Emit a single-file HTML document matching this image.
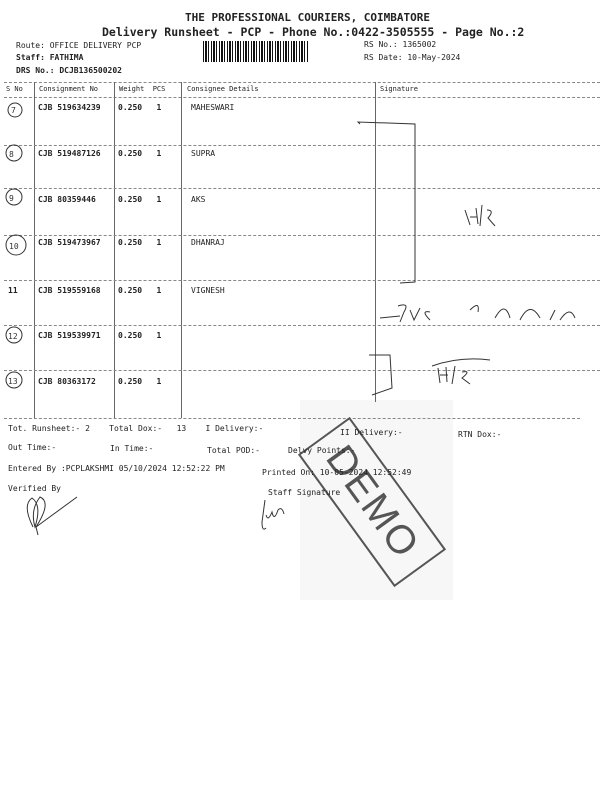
<!DOCTYPE html>
<html><head><meta charset="utf-8"><style>
body{margin:0;width:600px;height:800px;background:#fff;position:relative;overflow:hidden;font-family:"DejaVu Sans Mono","Liberation Mono",monospace;color:#222}
.t{position:absolute;white-space:pre;font-size:8px}
.b{font-weight:bold}
.h{position:absolute;left:4px;right:0;border-top:1px dashed #888;height:0}
.v{position:absolute;border-left:1px solid #666;top:82px;height:336px;width:0}
</style></head><body>
<div style="position:absolute;left:300px;top:400px;width:153px;height:200px;background:#f7f7f7"></div>
<div class="t b" style="left:185px;top:11px;font-size:11px">THE PROFESSIONAL COURIERS, COIMBATORE</div>
<div class="t b" style="left:102px;top:25px;font-size:11.5px">Delivery Runsheet - PCP - Phone No.:0422-3505555 - Page No.:2</div>
<div class="t" style="left:16px;top:41px">Route: OFFICE DELIVERY PCP</div>
<div class="t b" style="left:16px;top:53px">Staff: FATHIMA</div>
<div class="t b" style="left:16px;top:66px">DRS No.: DCJB136500202</div>
<div style="position:absolute;left:203px;top:41px;width:106px;height:21px;background:repeating-linear-gradient(90deg,#111 0 1px,#fff 1px 2px,#111 2px 4px,#fff 4px 5px,#111 5px 6px,#fff 6px 8px)"></div>
<div class="t" style="left:364px;top:40px">RS No.: 1365002</div>
<div class="t" style="left:364px;top:53px">RS Date: 10-May-2024</div>
<div class="h" style="top:82px"></div>
<div class="h" style="top:97px"></div>
<div class="t" style="left:6px;top:85px;font-size:7px">S No</div>
<div class="t" style="left:39px;top:85px;font-size:7px">Consignment No</div>
<div class="t" style="left:119px;top:85px;font-size:7px">Weight  PCS</div>
<div class="t" style="left:187px;top:85px;font-size:7px">Consignee Details</div>
<div class="t" style="left:380px;top:85px;font-size:7px">Signature</div>
<div class="v" style="left:34px"></div><div class="v" style="left:114px"></div>
<div class="v" style="left:181px"></div><div class="v" style="left:375px;height:320px"></div>
<div class="h" style="top:145px"></div><div class="h" style="top:188px"></div>
<div class="h" style="top:235px"></div><div class="h" style="top:280px"></div>
<div class="h" style="top:325px"></div><div class="h" style="top:370px"></div>
<div class="h" style="top:418px;right:20px"></div>
<div class="t b" style="left:38px;top:103px">CJB 519634239</div><div class="t b" style="left:118px;top:103px">0.250   1</div><div class="t" style="left:191px;top:103px">MAHESWARI</div>
<div class="t b" style="left:38px;top:149px">CJB 519487126</div><div class="t b" style="left:118px;top:149px">0.250   1</div><div class="t" style="left:191px;top:149px">SUPRA</div>
<div class="t b" style="left:38px;top:195px">CJB 80359446</div><div class="t b" style="left:118px;top:195px">0.250   1</div><div class="t" style="left:191px;top:195px">AKS</div>
<div class="t b" style="left:38px;top:238px">CJB 519473967</div><div class="t b" style="left:118px;top:238px">0.250   1</div><div class="t" style="left:191px;top:238px">DHANRAJ</div>
<div class="t b" style="left:8px;top:286px">11</div>
<div class="t b" style="left:38px;top:286px">CJB 519559168</div><div class="t b" style="left:118px;top:286px">0.250   1</div><div class="t" style="left:191px;top:286px">VIGNESH</div>
<div class="t b" style="left:38px;top:331px">CJB 519539971</div><div class="t b" style="left:118px;top:331px">0.250   1</div>
<div class="t b" style="left:38px;top:377px">CJB 80363172</div><div class="t b" style="left:118px;top:377px">0.250   1</div>
<svg style="position:absolute;left:0;top:0" width="600" height="800" fill="none" stroke="#333" stroke-width="1">
<circle cx="15" cy="110" r="7"/><circle cx="14" cy="153" r="8"/><circle cx="14" cy="197" r="8"/><circle cx="16" cy="245" r="10"/>
<circle cx="14" cy="335" r="8"/><circle cx="14" cy="380" r="8"/>
<text x="11" y="113" font-size="8" fill="#333" stroke="none">7</text>
<text x="9" y="157" font-size="8" fill="#333" stroke="none">8</text><text x="9" y="201" font-size="8" fill="#333" stroke="none">9</text>
<text x="9" y="249" font-size="8" fill="#333" stroke="none">10</text><text x="8" y="339" font-size="8" fill="#333" stroke="none">12</text><text x="8" y="384" font-size="8" fill="#333" stroke="none">13</text>
<path d="M360 124 L358 122 L415 124 L415 282 L400 283"/>
<path d="M465 210 L470 225 M476 208 L478 224 M470 217 L477 217 M482 205 L480 226 M487 210 Q495 210 488 218 L495 226"/>
<path d="M380 318 L400 316 M398 306 Q410 302 404 312 L400 322 M410 310 L414 320 L420 308 M430 312 Q420 310 430 320 M470 310 Q480 300 478 312 M495 318 Q505 300 510 318 M520 320 Q530 300 540 318 M550 320 L555 310 M560 320 Q570 305 575 318"/>
<path d="M369 355 L390 355 L392 388 L372 395"/>
<path d="M438 368 L440 383 M446 367 L447 382 M440 375 L448 375 M455 366 L452 384 M462 372 Q472 370 462 378 L470 384 M432 366 Q460 356 490 360"/>
<path d="M33 527 Q22 505 32 498 Q42 505 35 527 Q30 510 40 497 Q52 502 36 527 L38 535 M36 527 L77 497"/>
<path d="M265 500 L262 522 Q262 532 266 528 M266 515 Q268 522 272 512 Q274 522 278 510 Q282 506 284 514"/>
</svg>
<div style="position:absolute;width:60px;height:160px;border:2px solid #555;transform:rotate(-36deg);left:340px;top:420px;display:flex;align-items:center;justify-content:center">
<span style="font-family:'Liberation Sans',sans-serif;font-size:40px;color:#555;transform:rotate(90deg);display:block;letter-spacing:2px">DEMO</span></div>
<div class="t" style="left:8px;top:424px">Tot. Runsheet:- 2    Total Dox:-   13    I Delivery:-</div>
<div class="t" style="left:340px;top:428px">II Delivery:-</div>
<div class="t" style="left:458px;top:430px">RTN Dox:-</div>
<div class="t" style="left:8px;top:443px">Out Time:-</div><div class="t" style="left:110px;top:444px">In Time:-</div>
<div class="t" style="left:207px;top:446px">Total POD:-</div><div class="t" style="left:288px;top:446px">Delvy Points:-</div>
<div class="t" style="left:8px;top:464px">Entered By :PCPLAKSHMI 05/10/2024 12:52:22 PM</div>
<div class="t" style="left:262px;top:468px">Printed On: 10-05-2024 12:52:49</div>
<div class="t" style="left:8px;top:484px">Verified By</div>
<div class="t" style="left:268px;top:488px">Staff Signature</div>
</body></html>
